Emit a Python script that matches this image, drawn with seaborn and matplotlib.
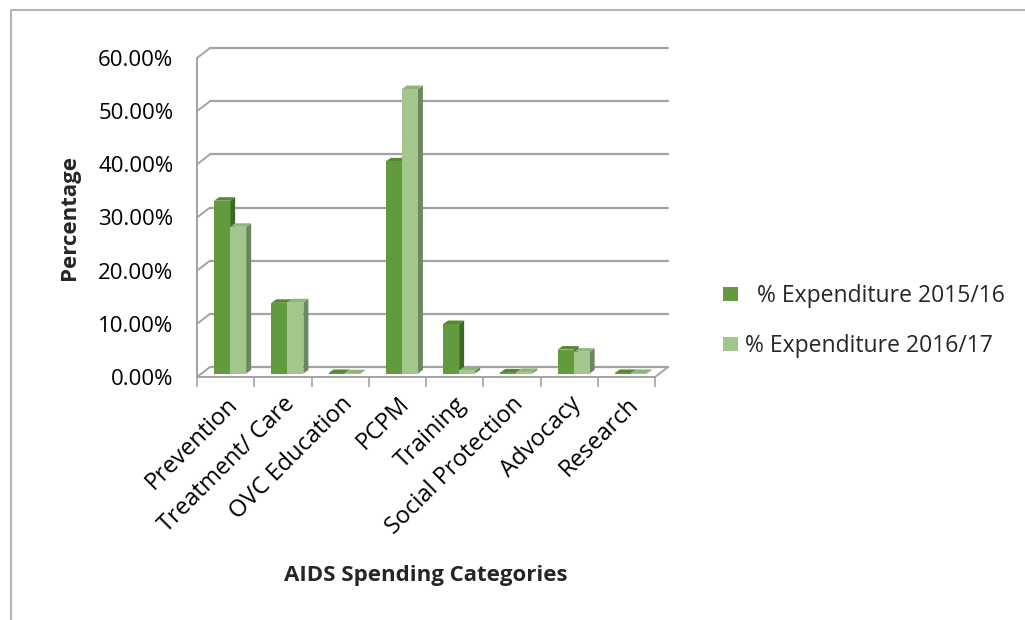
import matplotlib
matplotlib.use("Agg")
import matplotlib.pyplot as plt
from matplotlib.patches import Polygon, Rectangle
from matplotlib.lines import Line2D
import seaborn as sns
import pandas as pd

# ---- data -------------------------------------------------------------
categories = ["Prevention", "Treatment/ Care", "OVC Education", "PCPM",
              "Training", "Social Protection", "Advocacy", "Research"]
exp_2015_16 = [0.325, 0.133, 0.001, 0.399, 0.093, 0.002, 0.045, 0.001]
exp_2016_17 = [0.276, 0.134, 0.0005, 0.535, 0.006, 0.003, 0.041, 0.001]
series_names = ["  % Expenditure 2015/16", "% Expenditure 2016/17"]
y_ticks = [0.0, 0.1, 0.2, 0.3, 0.4, 0.5, 0.6]

# ---- style ------------------------------------------------------------
face_colors = ["#629b3d", "#a3c68c"]
top_colors = ["#54892f", "#8fb57a"]
side_colors = ["#3c6a22", "#6b8760"]
grid_color = "#a3a3a3"

sns.set_theme(style="white")
plt.rcParams["font.family"] = ["Open Sans", "DejaVu Sans"]
FS = 16

df = pd.DataFrame({
    "category": categories * 2,
    "value": exp_2015_16 + exp_2016_17,
    "series": [series_names[0]] * len(categories) + [series_names[1]] * len(categories),
})

W, H = 1025, 620
fig = plt.figure(figsize=(W / 100, H / 100), dpi=100)

# front plane of the pseudo 3-D box (pixel edges)
L, R, B, T = 197, 655, 377, 58
ax = fig.add_axes([L / W, 1 - B / H, (R - L) / W, (B - T) / H])

sns.barplot(data=df, x="category", y="value", hue="series",
            order=categories, hue_order=series_names,
            palette=face_colors, saturation=1, width=0.56,
            edgecolor="none", linewidth=0, legend=False, ax=ax)
ax.set_xlim(-0.5, len(categories) - 0.5)
ax.set_ylim(0, 0.6)

# pixel -> data conversions
ux = len(categories) / (R - L)
uy = 0.6 / (B - T)
back_dx, back_dy = 13 * ux, 10 * uy      # back wall offset
bar_dx, bar_dy = 4.5 * ux, 3.5 * uy      # bars sit mid-depth
dep_dx, dep_dy = 5 * ux, 3.5 * uy        # bar depth

# extrude the bars
for i, cont in enumerate(ax.containers):
    z = 3 + 2 * i
    for p in cont.patches:
        x0 = p.get_x() + bar_dx
        y0 = p.get_y() + bar_dy
        w, h = p.get_width(), p.get_height()
        p.set_x(x0)
        p.set_y(y0)
        p.set_zorder(z)
        top = Polygon([(x0, y0 + h), (x0 + w, y0 + h),
                       (x0 + w + dep_dx, y0 + h + dep_dy), (x0 + dep_dx, y0 + h + dep_dy)],
                      closed=True, facecolor=top_colors[i], edgecolor="none",
                      zorder=z - 0.5, clip_on=False)
        side = Polygon([(x0 + w, y0), (x0 + w + dep_dx, y0 + dep_dy),
                        (x0 + w + dep_dx, y0 + h + dep_dy), (x0 + w, y0 + h)],
                       closed=True, facecolor=side_colors[i], edgecolor="none",
                       zorder=z - 0.5, clip_on=False)
        ax.add_patch(side)
        ax.add_patch(top)

# back wall gridlines and the left-wall connectors
x_left, x_right = -0.5, len(categories) - 0.5
for v in y_ticks:
    ax.add_line(Line2D([x_left + back_dx, x_right + back_dx], [v + back_dy, v + back_dy],
                       color=grid_color, lw=1.6, zorder=1, clip_on=False))
    ax.add_line(Line2D([x_left, x_left + back_dx], [v, v + back_dy],
                       color=grid_color, lw=1.4, zorder=1, clip_on=False))
# right edge of the floor
ax.add_line(Line2D([x_right, x_right + back_dx], [0, back_dy],
                   color=grid_color, lw=1.4, zorder=1, clip_on=False))

# axes styling
for s in ["top", "right"]:
    ax.spines[s].set_visible(False)
for s in ["left", "bottom"]:
    ax.spines[s].set_color(grid_color)
    ax.spines[s].set_linewidth(1.4)
ax.set_yticks(y_ticks)
ax.set_yticklabels([f"{v:.2%}" for v in y_ticks], fontsize=FS, color="black")
ax.tick_params(axis="y", direction="out", length=5, width=1.2, color=grid_color, pad=12)
ax.set_xticks(range(len(categories)))
ax.set_xticks([k - 0.5 for k in range(len(categories) + 1)], minor=True)
ax.tick_params(axis="x", which="major", length=0, pad=11)
ax.tick_params(axis="x", which="minor", direction="out", length=7, width=1.2,
               color=grid_color, bottom=True)
ax.set_xticklabels(categories, fontsize=17, rotation=45, ha="right",
                   rotation_mode="anchor", color="black")
ax.set_xlabel("")
ax.set_ylabel("")
ax.patch.set_alpha(0)

fig.text(70 / W, 1 - 217 / H, "Percentage", rotation=90, ha="center", va="center",
         fontsize=FS, fontweight="bold")
fig.text(426 / W, 1 - 575 / H, "AIDS Spending Categories", ha="center", va="center",
         fontsize=FS, fontweight="bold")

handles = [Rectangle((0, 0), 1, 1, facecolor=c, edgecolor="none") for c in face_colors]
ax.legend(handles, series_names, loc="upper left",
          bbox_to_anchor=(723 / W, 1 - 284 / H), bbox_transform=fig.transFigure,
          frameon=False, fontsize=16.5, handlelength=0.66, handleheight=0.58,
          handletextpad=0.3, labelspacing=1.15, borderpad=0, borderaxespad=0)

# outer chart border
fig.add_artist(Line2D([11 / W, 11 / W, 1.0], [0.0, 1 - 10 / H, 1 - 10 / H],
                      transform=fig.transFigure, color="#b3b3b3", lw=1.5))

fig.savefig("out.png", dpi=100)
